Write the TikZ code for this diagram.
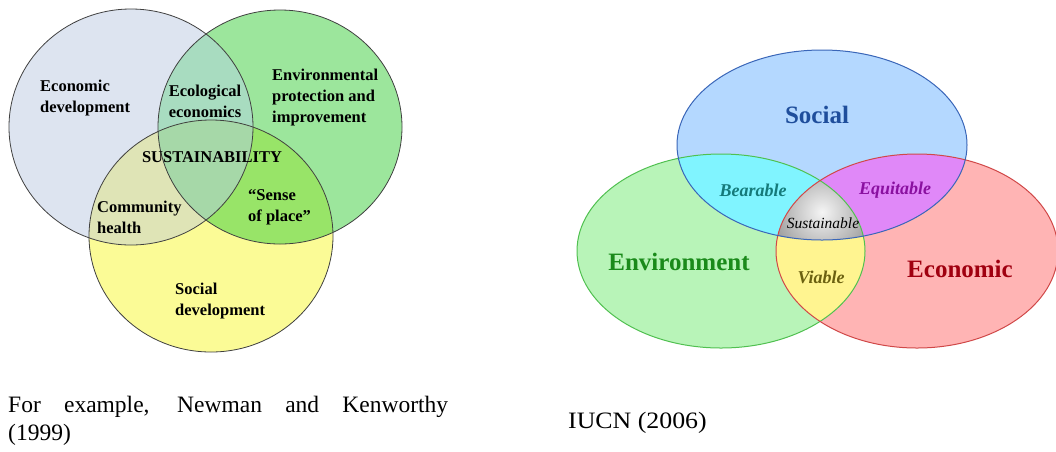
\documentclass[tikz,border=0pt]{standalone}
\usepackage{fontspec}
\setmainfont{Liberation Serif}
\definecolor{cA}{HTML}{DDE4F0}
\definecolor{cB}{HTML}{9CE69C}
\definecolor{cC}{HTML}{FBFB96}
\definecolor{cAB}{HTML}{A8DCC0}
\definecolor{cAC}{HTML}{DFE4B6}
\definecolor{cBC}{HTML}{98E468}
\definecolor{cABC}{HTML}{A6D8A8}
\definecolor{rS}{HTML}{B4D8FF}
\definecolor{rE}{HTML}{B8F4B8}
\definecolor{rR}{HTML}{FFB4B4}
\definecolor{rSE}{HTML}{80F4FF}
\definecolor{rSR}{HTML}{E088F8}
\definecolor{rER}{HTML}{FFF490}
\definecolor{lS}{HTML}{3A66B8}
\definecolor{lE}{HTML}{50C050}
\definecolor{lR}{HTML}{D04848}
\definecolor{tS}{HTML}{1F4E9C}
\definecolor{tE}{HTML}{1A8A1A}
\definecolor{tR}{HTML}{A00010}
\definecolor{tBe}{HTML}{157A7A}
\definecolor{tEq}{HTML}{8A10A0}
\definecolor{tVi}{HTML}{6B6010}
\begin{document}
\begin{tikzpicture}[x=1pt,y=-1pt,
  leftlbl/.style={inner sep=0pt,font=\fontsize{16.5}{21}\selectfont\bfseries},
  bigl/.style={inner sep=0pt,font=\fontsize{25}{28}\selectfont\bfseries},
  smalll/.style={inner sep=0pt,font=\fontsize{18}{20}\selectfont\bfseries\itshape},
  caption/.style={inner sep=0pt,anchor=base west,font=\fontsize{23.5}{28}\selectfont},
  outl/.style={draw=black!75,line width=0.8pt}]
\useasboundingbox (0,0) rectangle (1056,451);
\def\ellA{(131,127) ellipse [x radius=122pt, y radius=118pt]}
\def\ellB{(280,127) ellipse [x radius=122pt, y radius=117pt]}
\def\ellC{(211,236) ellipse [x radius=122pt, y radius=116pt]}
\def\ellS{(822,145) ellipse [x radius=145pt, y radius=95pt]}
\def\ellE{(721,251) ellipse [x radius=144pt, y radius=97pt]}
\def\ellR{(917,251) ellipse [x radius=141pt, y radius=97pt]}
% ---- left diagram
\fill[cA] \ellA;
\fill[cB] \ellB;
\fill[cC] \ellC;
\begin{scope}\clip \ellA; \fill[cAB] \ellB; \end{scope}
\begin{scope}\clip \ellA; \fill[cAC] \ellC; \end{scope}
\begin{scope}\clip \ellB; \fill[cBC] \ellC; \end{scope}
\begin{scope}\clip \ellA; \clip \ellB; \fill[cABC] \ellC; \end{scope}
\draw[outl] \ellA;
\draw[outl] \ellB;
\draw[outl] \ellC;
\node[leftlbl,anchor=west,align=left] (ecodev) at (40,98) {Economic\\development};
\node[leftlbl,align=center] (ecolo) at (205,101) {Ecological\\economics};
\node[leftlbl,anchor=west,align=left] (envprot) at (272,98) {Environmental\\protection and\\improvement};
\node[leftlbl] (sust) at (212,157) {SUSTAINABILITY};
\node[leftlbl,anchor=west,align=left] (commh) at (97,217) {Community\\health};
\node[leftlbl,anchor=west,align=left] (sense) at (248,207) {“Sense\\of place”};
\node[leftlbl,anchor=west,align=left] (socdev) at (175,301) {Social\\development};
% ---- right diagram
\begin{scope}
\clip (0,0) rectangle (1056,451);
\fill[rE] \ellE;
\fill[rR] \ellR;
\fill[rS] \ellS;
\begin{scope}\clip \ellS; \fill[rSE] \ellE; \end{scope}
\begin{scope}\clip \ellS; \fill[rSR] \ellR; \end{scope}
\begin{scope}\clip \ellE; \fill[rER] \ellR; \end{scope}
\begin{scope}\clip \ellS; \clip \ellE; \clip \ellR;
  \shade[inner color=white!96!black, outer color=black!38] (822,212) circle (50pt);
\end{scope}
\draw[lE,line width=1pt] \ellE;
\draw[lR,line width=1pt] \ellR;
\draw[lS,line width=1pt] \ellS;
\end{scope}
\node[bigl,text=tS] (social) at (817,115) {Social};
\node[bigl,text=tE] (env) at (679,262) {Environment};
\node[bigl,text=tR] (econ) at (960,269) {Economic};
\node[smalll,text=tBe] (bear) at (753,190) {Bearable};
\node[smalll,text=tEq] (equi) at (895,190) {Equitable};
\node[smalll,text=tVi] (viab) at (821,277) {Viable};
\node[inner sep=0pt,font=\fontsize{15.5}{18}\selectfont\itshape] (sustn) at (823,223) {Sustainable};
% ---- captions
\node[caption] (cap1) at (8,412) {\makebox[440pt][s]{For example, Newman and Kenworthy}};
\node[caption] (cap1b) at (8,440) {(1999)};
\node[caption] (cap2) at (568,428) {\scalebox{1.1}[1]{IUCN (2006)}};
\end{tikzpicture}
\end{document}
